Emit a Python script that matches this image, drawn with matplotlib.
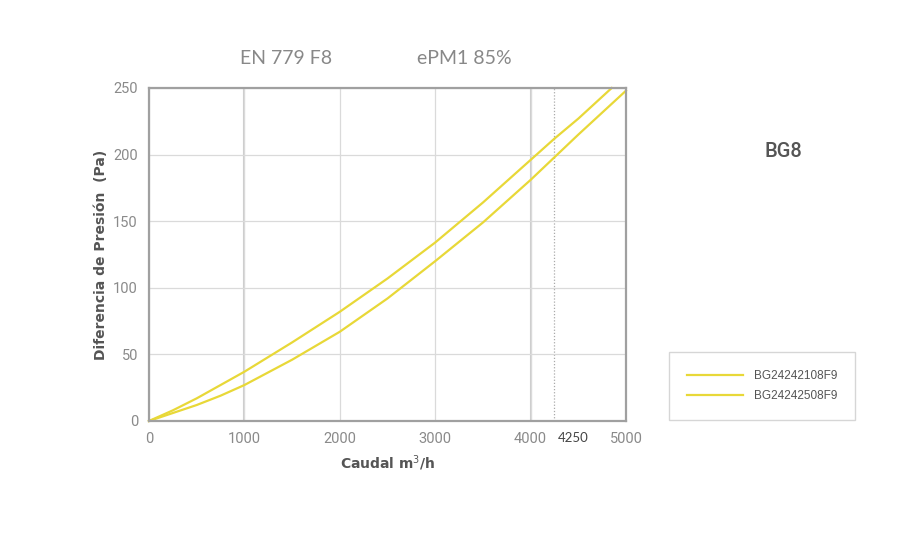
import numpy as np
import matplotlib.pyplot as plt

# caudal (m3/h) and pressure drop (Pa)
caudal = [0, 250, 500, 750, 1000, 1500, 2000, 2500, 3000, 3500, 4000, 4250, 4500, 4850]
dp_108 = [0, 8, 17, 27, 37, 59, 82, 107, 134, 164, 196, 212, 227, 250]

caudal_2 = [0, 250, 500, 750, 1000, 1500, 2000, 2500, 3000, 3500, 4000, 4250, 4500, 5000]
dp_508 = [0, 6, 12, 19, 27, 46, 67, 92, 120, 149, 181, 198, 215, 248]

x_ticks = [0, 1000, 2000, 3000, 4000, 5000]
y_ticks = [0, 50, 100, 150, 200, 250]
nominal = 4250

yellow = '#e8d838'

fig = plt.figure(figsize=(9.08, 5.36), dpi=100)
ax = fig.add_axes([149/908, 1 - 421/536, 477/908, 333/536])

ax.set_xlim(0, 5000)
ax.set_ylim(0, 250)
ax.set_xticks(x_ticks)
ax.set_yticks(y_ticks)
ax.tick_params(length=0, colors='#8a8a8a', labelsize=10.5, pad=8)
for lab in ax.get_xticklabels() + ax.get_yticklabels():
    lab.set_family('Roboto')

ax.grid(True, color='#dadada', lw=0.9)
for xv in (1000, 4000):
    ax.axvline(xv, color='#cdcdcd', lw=1.5, zorder=1)
ax.axvline(nominal, color='#aaaaaa', lw=0.9, ls=(0, (1, 1.5)), zorder=1)
ax.text(nominal + 40, -12.5, '4250', ha='left', va='center', fontsize=9.5,
        color='#444444', family='Lato')

for s in ax.spines.values():
    s.set_color('#a0a0a0')
    s.set_linewidth(1.6)

ax.plot(caudal, dp_108, color=yellow, lw=1.6, label='BG24242108F9', clip_on=False)
ax.plot(caudal_2, dp_508, color=yellow, lw=1.6, label='BG24242508F9', clip_on=False)

ax.set_xlabel('Caudal m$^3$/h', fontsize=10, fontweight='bold', color='#555555',
              labelpad=5)
ax.set_ylabel('Diferencia de Presión  (Pa)', fontsize=10, fontweight='bold',
              color='#555555', labelpad=4)

fig.text(286/908, 1 - 59/536, 'EN 779 F8', ha='center', va='center', fontsize=14,
         color='#888888', family='Lato')
fig.text(464/908, 1 - 59/536, 'ePM1 85%', ha='center', va='center', fontsize=14,
         color='#888888', family='Lato')
fig.text(783/908, 1 - 152/536, 'BG8', ha='center', va='center', fontsize=14.5,
         color='#555555', family='Roboto', fontweight='medium')

leg = fig.legend(loc='center', bbox_to_anchor=(762/908, 1 - 386/536),
                 prop={'family': 'Liberation Sans', 'size': 8.5},
                 frameon=True, fancybox=False, handlelength=4.8,
                 handletextpad=0.9, borderpad=1.5, labelspacing=0.7,
                 borderaxespad=0)
leg.get_frame().set_edgecolor('#cccccc')
leg.get_frame().set_linewidth(1.0)
for t in leg.get_texts():
    t.set_color('#555555')

fig.savefig('out.png', dpi=100)
